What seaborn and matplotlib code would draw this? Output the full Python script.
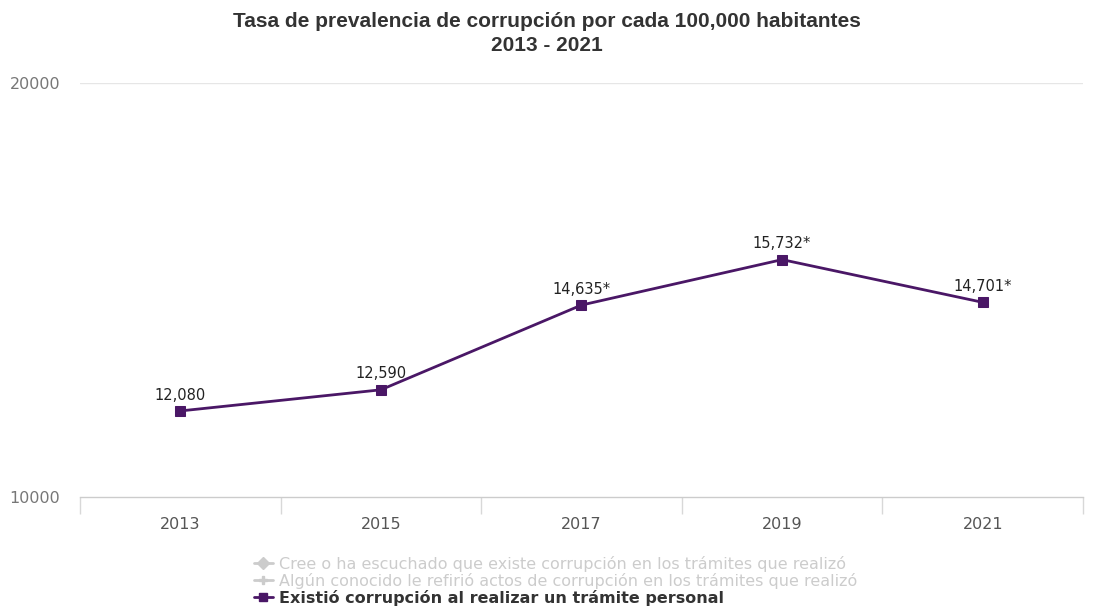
import pandas as pd
import matplotlib
matplotlib.use("Agg")
import matplotlib.pyplot as plt
import seaborn as sns
from matplotlib.lines import Line2D

# Data
years = ["2013", "2015", "2017", "2019", "2021"]
tasa = [12080, 12590, 14635, 15732, 14701]
significativo = [False, False, True, True, True]

series_names = [
    "Cree o ha escuchado que existe corrupción en los trámites que realizó",
    "Algún conocido le refirió actos de corrupción en los trámites que realizó",
    "Existió corrupción al realizar un trámite personal",
]

LINE_COLOR = "#4a1766"
HIDDEN_COLOR = "#cccccc"

df = pd.DataFrame({"anio": years, "tasa": tasa})

sns.set_theme(style="white")
plt.rcParams["font.family"] = ["DejaVu Sans"]

fig = plt.figure(figsize=(10.94, 6.13), dpi=100)
ax = fig.add_axes([0.073, 0.189, 0.917, 0.676])

sns.lineplot(data=df, x="anio", y="tasa", ax=ax, color=LINE_COLOR,
             marker="s", markersize=7, markeredgecolor=LINE_COLOR,
             linewidth=2, sort=False)

# data labels
for i, (v, sig) in enumerate(zip(tasa, significativo)):
    lbl = f"{v:,}" + ("*" if sig else "")
    ax.annotate(lbl, (i, v), xytext=(0, 6), textcoords="offset points",
                ha="center", va="bottom", fontsize=10.5, color="#222222")

ax.set_ylim(10000, 20000)
ax.set_yticks([10000, 20000])
ax.set_yticklabels(["10000", "20000"], fontsize=11.5, color="#777777")
ax.set_xlim(-0.5, len(years) - 0.5)
ax.set_xticks(range(len(years)))
ax.set_xticklabels(years, fontsize=11.5, color="#555555")
ax.set_xticks([i - 0.5 for i in range(len(years) + 1)], minor=True)
ax.tick_params(axis="x", which="major", length=0, pad=14)
ax.tick_params(axis="x", which="minor", bottom=True, length=12,
               color="#d8d8d8", width=1)
ax.tick_params(axis="y", length=0, pad=14)
ax.set_xlabel("")
ax.set_ylabel("")

ax.axhline(20000, color="#e6e6e6", linewidth=1)
for s in ["top", "right", "left"]:
    ax.spines[s].set_visible(False)
ax.spines["bottom"].set_color("#cccccc")
ax.spines["bottom"].set_linewidth(1)

fig.text(0.5, 0.965, "Tasa de prevalencia de corrupción por cada 100,000 habitantes",
         ha="center", va="center", fontsize=15, fontweight="bold",
         family="Liberation Sans", color="#333333")
fig.text(0.5, 0.925, "2013 - 2021", ha="center", va="center", fontsize=15,
         fontweight="bold", family="Liberation Sans", color="#333333")

handles = [
    Line2D([], [], color=HIDDEN_COLOR, marker="D", markersize=6, linewidth=2),
    Line2D([], [], color=HIDDEN_COLOR, marker="P", markersize=6, linewidth=2),
    Line2D([], [], color=LINE_COLOR, marker="s", markersize=6, linewidth=2),
]
leg = fig.legend(handles, series_names, loc="upper center",
                 bbox_to_anchor=(0.508, 0.106), frameon=False,
                 prop={"family": "DejaVu Sans", "size": 11.5},
                 handlelength=1.2, handletextpad=0.4, labelspacing=0.05,
                 borderpad=0)
for t, c in zip(leg.get_texts(), [HIDDEN_COLOR, HIDDEN_COLOR, "#333333"]):
    t.set_color(c)
leg.get_texts()[2].set_fontweight("bold")

fig.savefig("out.png", dpi=100)
